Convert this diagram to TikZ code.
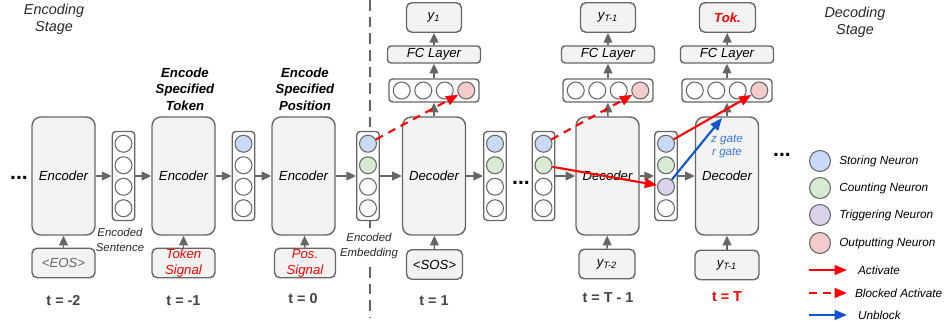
\documentclass[tikz,border=0pt]{standalone}
\usepackage{fontspec}
\setmainfont{Liberation Sans}
\usetikzlibrary{arrows.meta,positioning}

\definecolor{boxgray}{HTML}{F3F3F3}
\definecolor{linegray}{HTML}{666666}
\definecolor{txtgray}{HTML}{434343}
\definecolor{storeblue}{HTML}{C9DAF8}
\definecolor{countgreen}{HTML}{D9EAD3}
\definecolor{trigpurple}{HTML}{D9D2E9}
\definecolor{outpink}{HTML}{F4CCCC}
\definecolor{gateblue}{HTML}{1155CC}
\definecolor{gatetxt}{HTML}{3C78D8}

\newcommand{\boxfont}{\fontsize{7.5pt}{9pt}\selectfont\itshape}

\tikzset{
  unit/.style={draw=linegray,fill=boxgray,line width=0.8pt,rounded corners=5pt,
    minimum width=12.6mm,minimum height=23.6mm,inner sep=0pt,font=\boxfont},
  inbox/.style={draw=linegray,fill=boxgray,line width=0.8pt,rounded corners=3pt,
    minimum height=5.9mm,inner sep=0pt,align=center,font=\boxfont},
  fcbox/.style={draw=linegray,fill=boxgray,line width=0.8pt,rounded corners=2pt,
    minimum width=18.6mm,minimum height=3.4mm,inner sep=0pt,font=\boxfont},
  vcol/.style={draw=linegray,fill=white,line width=0.8pt,rounded corners=2pt,
    minimum width=4.5mm,minimum height=17.8mm,inner sep=0pt},
  hrow/.style={draw=linegray,fill=white,line width=0.8pt,rounded corners=2pt,
    minimum width=18.0mm,minimum height=4.6mm,inner sep=0pt},
  cell/.style={circle,draw=linegray,line width=0.6pt,minimum size=3.4mm,inner sep=0pt},
  garrow/.style={-{Triangle[length=5.5pt,width=5pt]},draw=linegray,line width=0.9pt},
  act/.style={-{Triangle[length=7pt,width=5.5pt]},draw=red,line width=1.2pt},
  blockact/.style={act,dash pattern=on 4.5pt off 3.5pt},
  unblock/.style={-{Triangle[length=7pt,width=5.5pt]},draw=gateblue,line width=1.2pt},
  legtext/.style={font=\fontsize{6.7pt}{8pt}\selectfont\itshape,inner sep=1pt},
  tlabel/.style={font=\fontsize{8.2pt}{10pt}\selectfont\bfseries,text=txtgray},
  headtext/.style={font=\fontsize{7.5pt}{9.4pt}\selectfont\bfseries\itshape,align=center},
  stagetext/.style={font=\fontsize{8.2pt}{9.7pt}\selectfont\itshape,align=center,text=txtgray!60!black},
  smalltext/.style={font=\fontsize{6.5pt}{8.5pt}\selectfont\itshape,align=center,text=txtgray!60!black,inner sep=1pt},
  ellip/.style={font=\fontsize{12pt}{12pt}\selectfont\bfseries,inner sep=0pt}
}

\begin{document}
\begin{tikzpicture}[x=0.02cm,y=-0.02cm]
  \useasboundingbox (0,0) rectangle (945,333);

  % stage divider
  \coordinate (divtop) at (370,0);
  \coordinate (divbot) at (370,318);
  \draw[linegray,line width=0.9pt,dash pattern=on 6pt off 3.5pt] (divtop) -- (divbot);

  % headings
  \node[stagetext] (encstage) at (54,19) {Encoding\\Stage};
  \node[stagetext] (decstage) at (855,22) {Decoding\\Stage};
  \node[headtext] (tokhead) at (185,89) {Encode\\Specified\\Token};
  \node[headtext] (poshead) at (305,89) {Encode\\Specified\\Position};

  % encoders and decoders
  \node[unit] (enc1) at (63.5,176) {Encoder};
  \node[unit] (enc2) at (183.5,176) {Encoder};
  \node[unit] (enc3) at (303.5,176) {Encoder};
  \node[unit] (dec1) at (434,176) {Decoder};
  \node[unit] (dec2) at (607.5,176) {Decoder};
  \node[unit] (dec3) at (727,176) {Decoder};
  \node[font=\fontsize{6.6pt}{7.6pt}\selectfont\itshape,text=gatetxt,align=center]
    (gates) at (727,146.5) {z gate\\r gate};

  % hidden state vectors
  \foreach \n/\x/\ca/\cb/\cc in {v1/123.5/white/white/white,
      v2/243.5/storeblue/white/white,
      emb/368/storeblue/countgreen/white,
      va/495/storeblue/countgreen/white,
      vb/543.5/storeblue/countgreen/white,
      vc/666/storeblue/countgreen/trigpurple} {
    \node[vcol] (\n) at (\x,176) {};
    \foreach \i/\c in {1/\ca,2/\cb,3/\cc,4/white}
      \node[cell,fill=\c] (\n-\i) at (\x,{176+21.5*(\i-2.5)}) {};
  }

  % output layers
  \foreach \n/\x in {r1/434,r2/608,r3/727} {
    \node[hrow] (\n) at (\x,90.5) {};
    \foreach \i/\c in {1/white,2/white,3/white,4/outpink}
      \node[cell,fill=\c] (\n-\i) at ({\x+21.5*(\i-2.5)},90.5) {};
  }
  \node[fcbox] (fc1) at (434,54.5) {FC Layer};
  \node[fcbox] (fc2) at (608,54.5) {FC Layer};
  \node[fcbox] (fc3) at (727,54.5) {FC Layer};
  \node[inbox,minimum width=11mm] (out1) at (434,17.5) {\textit{y}\textsubscript{1}};
  \node[inbox,minimum width=11mm] (out2) at (608,17.5) {\textit{y}\textsubscript{\textit{T-1}}};
  \node[inbox,minimum width=11.2mm,text=red,font=\fontsize{7.5pt}{9pt}\selectfont\bfseries\itshape]
    (out3) at (727.5,17.5) {Tok.};

  % inputs
  \node[inbox,minimum width=12.6mm,text=linegray] (in1) at (63.5,263) {<EOS>};
  \node[inbox,minimum width=12.6mm,text=red] (in2) at (183.5,263) {Token\\Signal};
  \node[inbox,minimum width=12.2mm,text=red] (in3) at (305,263) {Pos.\\Signal};
  \node[inbox,minimum width=11.2mm] (in4) at (434.5,264.5) {<SOS>};
  \node[inbox,minimum width=11.2mm] (in5) at (607,264) {\textit{y}\textsubscript{\textit{T-2}}};
  \node[inbox,minimum width=12.8mm] (in6) at (727,265) {\textit{y}\textsubscript{\textit{T-1}}};

  % time steps
  \node[tlabel] (t1) at (63.5,301) {t = -2};
  \node[tlabel] (t2) at (183.5,301) {t = -1};
  \node[tlabel] (t3) at (303,299) {t = 0};
  \node[tlabel] (t4) at (434,301) {t = 1};
  \node[tlabel] (t5) at (608,298) {t = T - 1};
  \node[tlabel,text=red] (t6) at (727,297) {t = T};

  % side labels
  \node[smalltext] (sentlbl) at (120,239.5) {Encoded\\Sentence};
  \node[smalltext,fill=white] (emblbl) at (369,246.5) {Encoded\\Embedding};
  \node[ellip] (ldots) at (19,178) {...};
  \node[ellip] (mdots) at (521,183) {...};
  \node[ellip] (rdots) at (782,155) {...};

  % gray flow
  \draw[garrow] (enc1) -- (v1);
  \draw[garrow] (v1) -- (enc2);
  \draw[garrow] (enc2) -- (v2);
  \draw[garrow] (v2) -- (enc3);
  \draw[garrow] (enc3) -- (emb);
  \draw[garrow] (emb) -- (dec1);
  \draw[garrow] (dec1) -- (va);
  \draw[garrow] (vb) -- (dec2);
  \draw[garrow] (dec2) -- (vc);
  \draw[garrow] (vc) -- (dec3);
  \foreach \a/\b in {in1/enc1,in2/enc2,in3/enc3,in4/dec1,in5/dec2,in6/dec3,
      dec1/r1,r1/fc1,fc1/out1,dec2/r2,r2/fc2,fc2/out2,dec3/r3,r3/fc3,fc3/out3}
    \draw[garrow] (\a) -- (\b);

  % neuron activations
  \coordinate (gatetip) at (722,118);
  \draw[blockact] (emb-1) -- (r1-4);
  \draw[blockact] (vb-1) -- (r2-4);
  \draw[act] (vb-2) -- (vc-3);
  \draw[act] (vc-1) -- (r3-4);
  \draw[unblock] (vc-3) -- (gatetip);

  % legend
  \foreach \n/\c/\t/\y in {ls/storeblue/Storing Neuron/161,
      lc/countgreen/Counting Neuron/188,
      lt/trigpurple/Triggering Neuron/215,
      lo/outpink/Outputting Neuron/243} {
    \node[cell,minimum size=4.2mm,fill=\c] (\n) at (820,\y) {};
    \node[legtext,right=3.5pt of \n] (\n-t) {\t};
  }
  \coordinate (la-s) at (809,270); \coordinate (la-e) at (847,270);
  \coordinate (lb-s) at (809,293); \coordinate (lb-e) at (847,293);
  \coordinate (lu-s) at (809,315); \coordinate (lu-e) at (847,315);
  \draw[act] (la-s) -- (la-e);
  \draw[blockact] (lb-s) -- (lb-e);
  \draw[unblock] (lu-s) -- (lu-e);
  \node[legtext,anchor=west] (la-t) at (856,270) {Activate};
  \node[legtext,anchor=west] (lb-t) at (853,293) {Blocked Activate};
  \node[legtext,anchor=west] (lu-t) at (856,315) {Unblock};
\end{tikzpicture}
\end{document}
